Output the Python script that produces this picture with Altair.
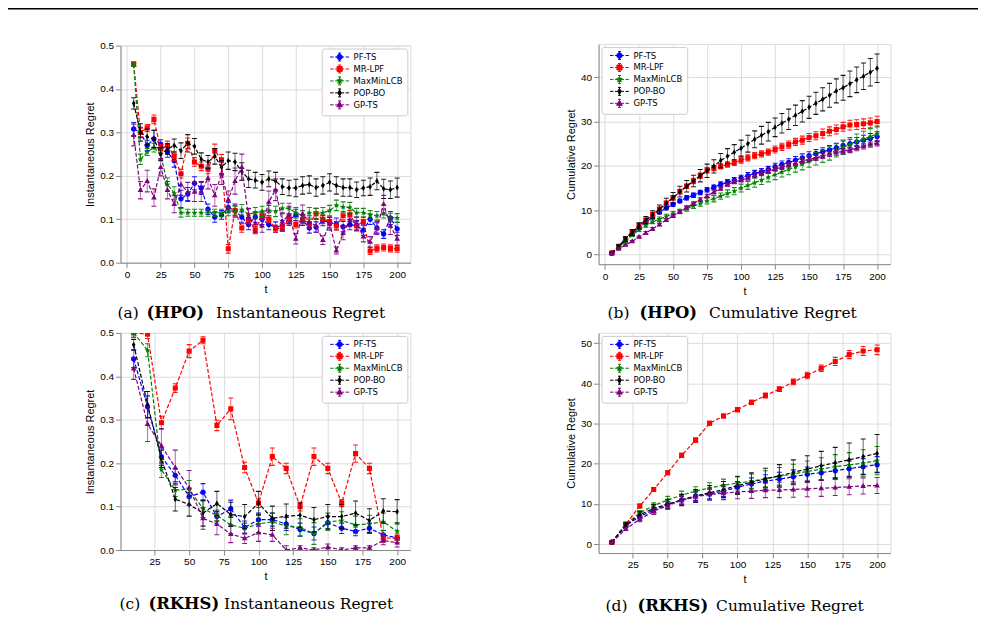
import math
import altair as alt
import pandas as pd

SERIES = ["PF-TS", "MR-LPF", "MaxMinLCB", "POP-BO", "GP-TS"]
COLORS = ["blue", "red", "green", "black", "purple"]
MARKERS = ["circle", "square", "star", "diamond", "triangle"]

T_HPO = [5, 10, 15, 20, 25, 30, 35, 40, 45, 50, 55, 60, 65, 70, 75, 80, 85, 90, 95, 100,
         105, 110, 115, 120, 125, 130, 135, 140, 145, 150, 155, 160, 165, 170, 175, 180, 185, 190, 195, 200]
T_RKHS = [10, 20, 30, 40, 50, 60, 70, 80, 90, 100, 110, 120, 130, 140, 150, 160, 170, 180, 190, 200]

# (a) HPO instantaneous regret
HPO_INST = {
    "PF-TS": [0.308, 0.300, 0.270, 0.285, 0.273, 0.255, 0.235, 0.147, 0.158, 0.183, 0.172, 0.123, 0.105, 0.110, 0.127, 0.120, 0.105, 0.088, 0.105, 0.100,
              0.088, 0.082, 0.085, 0.098, 0.110, 0.098, 0.080, 0.082, 0.097, 0.092, 0.090, 0.083, 0.088, 0.085, 0.075, 0.100, 0.080, 0.066, 0.103, 0.078],
    "MR-LPF": [0.457, 0.300, 0.310, 0.330, 0.262, 0.270, 0.245, 0.205, 0.275, 0.232, 0.222, 0.215, 0.258, 0.237, 0.032, 0.120, 0.080, 0.100, 0.075, 0.108,
               0.100, 0.078, 0.080, 0.100, 0.088, 0.100, 0.090, 0.113, 0.100, 0.095, 0.085, 0.108, 0.110, 0.085, 0.095, 0.027, 0.033, 0.035, 0.033, 0.032],
    "MaxMinLCB": [0.457, 0.238, 0.255, 0.265, 0.250, 0.180, 0.160, 0.115, 0.115, 0.115, 0.115, 0.115, 0.115, 0.115, 0.118, 0.120, 0.122, 0.112, 0.115, 0.118,
                  0.120, 0.118, 0.125, 0.125, 0.115, 0.108, 0.115, 0.113, 0.115, 0.120, 0.132, 0.128, 0.127, 0.115, 0.115, 0.110, 0.108, 0.113, 0.104, 0.103],
    "POP-BO": [0.367, 0.300, 0.290, 0.285, 0.250, 0.262, 0.270, 0.258, 0.275, 0.268, 0.238, 0.232, 0.245, 0.220, 0.235, 0.232, 0.210, 0.193, 0.190, 0.185,
               0.193, 0.188, 0.175, 0.172, 0.172, 0.178, 0.180, 0.173, 0.178, 0.185, 0.178, 0.173, 0.173, 0.168, 0.172, 0.175, 0.188, 0.170, 0.168, 0.173],
    "GP-TS": [0.294, 0.167, 0.188, 0.150, 0.220, 0.167, 0.135, 0.180, 0.163, 0.163, 0.163, 0.195, 0.155, 0.205, 0.145, 0.188, 0.220, 0.105, 0.090, 0.085,
              0.140, 0.168, 0.095, 0.110, 0.055, 0.113, 0.093, 0.085, 0.052, 0.090, 0.028, 0.068, 0.098, 0.090, 0.060, 0.048, 0.080, 0.135, 0.085, 0.055],
}
HPO_INST_ERR = {
    "PF-TS": [0.015, 0.012, 0.012, 0.020, 0.010, 0.012, 0.015, 0.020, 0.015, 0.015, 0.015, 0.012, 0.012, 0.010, 0.012, 0.015, 0.012, 0.012, 0.012, 0.012,
              0.012, 0.012, 0.012, 0.012, 0.013, 0.012, 0.012, 0.012, 0.012, 0.012, 0.013, 0.012, 0.012, 0.012, 0.012, 0.012, 0.012, 0.010, 0.015, 0.015],
    "MR-LPF": [0.005, 0.010, 0.008, 0.010, 0.010, 0.010, 0.010, 0.010, 0.012, 0.010, 0.010, 0.010, 0.015, 0.012, 0.010, 0.012, 0.010, 0.010, 0.008, 0.008,
               0.008, 0.008, 0.008, 0.010, 0.008, 0.010, 0.010, 0.012, 0.010, 0.010, 0.010, 0.010, 0.010, 0.010, 0.010, 0.008, 0.008, 0.008, 0.008, 0.008],
    "MaxMinLCB": [0.005, 0.012, 0.008, 0.010, 0.012, 0.015, 0.015, 0.010, 0.008, 0.008, 0.008, 0.008, 0.008, 0.008, 0.010, 0.010, 0.012, 0.012, 0.012, 0.012,
                  0.012, 0.012, 0.012, 0.012, 0.012, 0.012, 0.012, 0.012, 0.012, 0.012, 0.012, 0.012, 0.012, 0.010, 0.010, 0.010, 0.010, 0.010, 0.010, 0.010],
    "POP-BO": [0.013, 0.020, 0.018, 0.020, 0.015, 0.012, 0.015, 0.018, 0.020, 0.018, 0.015, 0.015, 0.018, 0.015, 0.020, 0.020, 0.020, 0.020, 0.018, 0.018,
               0.018, 0.020, 0.018, 0.018, 0.020, 0.020, 0.020, 0.020, 0.020, 0.020, 0.020, 0.020, 0.020, 0.018, 0.018, 0.020, 0.020, 0.022, 0.020, 0.022],
    "GP-TS": [0.025, 0.020, 0.025, 0.020, 0.020, 0.020, 0.020, 0.025, 0.022, 0.022, 0.022, 0.025, 0.025, 0.025, 0.020, 0.030, 0.030, 0.020, 0.020, 0.015,
              0.025, 0.025, 0.020, 0.020, 0.012, 0.020, 0.015, 0.015, 0.010, 0.015, 0.008, 0.015, 0.015, 0.015, 0.012, 0.012, 0.015, 0.020, 0.020, 0.015],
}

# (b) HPO cumulative regret
HPO_CUM = {
    "PF-TS": [0.3, 1.8, 3.2, 4.6, 6.0, 7.3, 8.5, 9.6, 10.5, 11.3, 12.1, 12.8, 13.4, 14.0, 14.6, 15.2, 15.8, 16.3, 16.8, 17.3,
              17.8, 18.3, 18.7, 19.2, 19.8, 20.3, 20.8, 21.3, 21.8, 22.3, 22.8, 23.2, 23.6, 24.1, 24.6, 25.0, 25.4, 25.8, 26.2, 26.6],
    "MR-LPF": [0.4, 1.9, 3.6, 5.2, 6.6, 7.8, 9.1, 10.2, 11.6, 12.8, 14.2, 15.4, 16.6, 17.8, 19.0, 19.5, 19.9, 20.3, 20.7, 21.3,
               21.8, 22.3, 22.7, 23.1, 23.7, 24.3, 24.8, 25.4, 25.8, 26.4, 26.8, 27.3, 27.8, 28.2, 28.8, 29.2, 29.3, 29.5, 29.7, 30.0],
    "MaxMinLCB": [0.4, 1.7, 3.0, 4.4, 5.6, 6.6, 7.4, 8.0, 8.6, 9.2, 9.7, 10.4, 11.0, 11.5, 12.1, 12.6, 13.2, 13.8, 14.3, 15.0,
                  15.6, 16.2, 16.8, 17.4, 18.0, 18.6, 19.2, 19.8, 20.4, 21.0, 21.6, 22.2, 22.8, 23.5, 24.2, 24.8, 25.5, 26.1, 26.6, 27.2],
    "POP-BO": [0.4, 1.8, 3.5, 5.0, 6.5, 7.8, 9.0, 10.2, 11.6, 12.8, 14.2, 15.4, 16.6, 17.8, 18.9, 19.9, 21.2, 22.2, 23.1, 24.0,
               25.0, 26.0, 26.9, 27.7, 28.7, 29.6, 30.5, 31.4, 32.3, 33.2, 34.1, 35.0, 35.9, 36.9, 37.6, 38.5, 39.4, 40.2, 41.1, 42.0],
    "GP-TS": [0.3, 1.3, 2.2, 3.0, 4.0, 4.9, 5.8, 6.8, 7.8, 8.7, 9.7, 10.6, 11.5, 12.4, 13.2, 14.1, 14.9, 15.8, 16.4, 16.8,
              17.3, 17.9, 18.4, 18.8, 19.3, 19.7, 20.2, 20.6, 21.1, 21.5, 21.8, 22.3, 22.7, 23.0, 23.3, 23.6, 24.0, 24.4, 24.8, 25.1],
}
HPO_CUM_ERR = {
    "PF-TS": [0.1, 0.2, 0.2, 0.3, 0.3, 0.3, 0.4, 0.4, 0.4, 0.4, 0.4, 0.5, 0.5, 0.5, 0.5, 0.5, 0.6, 0.6, 0.6, 0.6,
              0.7, 0.7, 0.7, 0.7, 0.8, 0.8, 0.8, 0.8, 0.9, 0.9, 0.9, 0.9, 1.0, 1.0, 1.0, 1.0, 1.0, 1.1, 1.1, 1.1],
    "MR-LPF": [0.1, 0.2, 0.3, 0.4, 0.4, 0.4, 0.4, 0.5, 0.5, 0.5, 0.5, 0.5, 0.6, 0.6, 0.6, 0.6, 0.6, 0.6, 0.6, 0.7,
               0.7, 0.7, 0.7, 0.7, 0.8, 0.8, 0.8, 0.8, 0.9, 0.9, 0.9, 1.0, 1.0, 1.0, 1.0, 1.1, 1.1, 1.1, 1.1, 1.2],
    "MaxMinLCB": [0.1, 0.2, 0.3, 0.3, 0.4, 0.4, 0.4, 0.5, 0.5, 0.5, 0.5, 0.6, 0.6, 0.6, 0.7, 0.7, 0.7, 0.8, 0.8, 0.9,
                  0.9, 1.0, 1.0, 1.0, 1.1, 1.1, 1.2, 1.2, 1.3, 1.3, 1.4, 1.4, 1.5, 1.5, 1.6, 1.6, 1.7, 1.7, 1.8, 1.8],
    "POP-BO": [0.2, 0.4, 0.5, 0.6, 0.7, 0.8, 0.9, 1.0, 1.1, 1.2, 1.2, 1.3, 1.3, 1.4, 1.5, 1.5, 1.6, 1.7, 1.7, 1.8,
               1.9, 1.9, 2.0, 2.1, 2.1, 2.2, 2.3, 2.3, 2.4, 2.5, 2.5, 2.6, 2.7, 2.7, 2.8, 2.9, 2.9, 3.0, 3.1, 3.2],
    "GP-TS": [0.1, 0.2, 0.2, 0.2, 0.2, 0.3, 0.3, 0.3, 0.3, 0.3, 0.3, 0.3, 0.4, 0.4, 0.4, 0.4, 0.4, 0.4, 0.4, 0.4,
              0.5, 0.5, 0.5, 0.5, 0.5, 0.5, 0.5, 0.5, 0.5, 0.5, 0.6, 0.6, 0.6, 0.6, 0.6, 0.6, 0.6, 0.6, 0.6, 0.6],
}

# (c) RKHS instantaneous regret
RKHS_INST = {
    "PF-TS": [0.440, 0.330, 0.215, 0.172, 0.123, 0.133, 0.077, 0.095, 0.052, 0.070, 0.070, 0.060, 0.047, 0.038, 0.063, 0.050, 0.043, 0.050, 0.035, 0.028],
    "MR-LPF": [0.500, 0.497, 0.293, 0.373, 0.458, 0.483, 0.287, 0.325, 0.190, 0.108, 0.215, 0.188, 0.100, 0.215, 0.188, 0.108, 0.222, 0.188, 0.028, 0.027],
    "MaxMinLCB": [0.500, 0.460, 0.185, 0.138, 0.140, 0.095, 0.080, 0.058, 0.050, 0.060, 0.065, 0.055, 0.052, 0.038, 0.065, 0.068, 0.058, 0.060, 0.065, 0.043],
    "POP-BO": [0.473, 0.335, 0.210, 0.117, 0.105, 0.085, 0.107, 0.082, 0.077, 0.108, 0.073, 0.078, 0.080, 0.070, 0.077, 0.077, 0.085, 0.068, 0.090, 0.088],
    "GP-TS": [0.418, 0.290, 0.240, 0.190, 0.143, 0.073, 0.060, 0.037, 0.027, 0.040, 0.035, 0.000, 0.005, 0.000, 0.007, 0.000, 0.005, 0.005, 0.022, 0.017],
}
RKHS_INST_ERR = {
    "PF-TS": [0.020, 0.025, 0.020, 0.015, 0.020, 0.020, 0.012, 0.020, 0.015, 0.015, 0.015, 0.015, 0.015, 0.015, 0.015, 0.012, 0.010, 0.012, 0.010, 0.005],
    "MR-LPF": [0.010, 0.010, 0.015, 0.010, 0.015, 0.008, 0.012, 0.025, 0.012, 0.010, 0.020, 0.012, 0.010, 0.020, 0.012, 0.008, 0.020, 0.012, 0.010, 0.010],
    "MaxMinLCB": [0.010, 0.015, 0.018, 0.015, 0.020, 0.020, 0.012, 0.020, 0.012, 0.020, 0.020, 0.020, 0.020, 0.025, 0.020, 0.020, 0.020, 0.020, 0.020, 0.020],
    "POP-BO": [0.012, 0.030, 0.020, 0.027, 0.027, 0.030, 0.028, 0.028, 0.028, 0.027, 0.028, 0.028, 0.028, 0.028, 0.028, 0.028, 0.028, 0.027, 0.028, 0.028],
    "GP-TS": [0.025, 0.040, 0.040, 0.040, 0.040, 0.025, 0.025, 0.020, 0.012, 0.020, 0.015, 0.010, 0.005, 0.005, 0.007, 0.005, 0.005, 0.005, 0.010, 0.010],
}

# (d) RKHS cumulative regret
RKHS_CUM = {
    "PF-TS": [0.5, 4.6, 6.9, 8.5, 9.8, 11.0, 12.0, 12.5, 13.2, 14.2, 15.0, 15.7, 16.2, 16.8, 17.4, 17.8, 18.3, 18.8, 19.3, 19.8],
    "MR-LPF": [0.5, 5.0, 9.5, 13.6, 17.8, 22.1, 25.9, 30.1, 31.9, 33.5, 35.3, 37.0, 38.6, 40.4, 42.0, 43.8, 45.5, 47.2, 48.1, 48.4],
    "MaxMinLCB": [0.5, 5.0, 7.8, 9.6, 11.0, 12.2, 13.2, 14.0, 14.7, 15.2, 15.7, 16.3, 16.9, 17.5, 18.1, 18.7, 19.3, 19.7, 20.2, 20.8],
    "POP-BO": [0.5, 4.7, 7.3, 8.9, 10.0, 11.0, 12.0, 12.8, 13.6, 14.6, 15.4, 16.3, 17.0, 17.9, 18.7, 19.5, 20.3, 21.0, 21.8, 22.6],
    "GP-TS": [0.4, 3.8, 6.2, 8.2, 9.6, 10.9, 11.8, 12.4, 12.7, 13.0, 13.2, 13.4, 13.5, 13.6, 13.8, 13.9, 14.1, 14.3, 14.5, 14.6],
}
RKHS_CUM_ERR = {
    "PF-TS": [0.2, 0.4, 0.6, 0.7, 0.8, 1.0, 1.1, 1.2, 1.3, 1.4, 1.5, 1.6, 1.7, 1.7, 1.8, 1.8, 1.9, 1.9, 2.0, 2.0],
    "MR-LPF": [0.2, 0.4, 0.5, 0.5, 0.5, 0.5, 0.5, 0.5, 0.5, 0.5, 0.5, 0.6, 0.6, 0.7, 0.8, 0.8, 1.0, 1.0, 1.1, 1.2],
    "MaxMinLCB": [0.2, 0.4, 0.6, 0.7, 0.9, 1.0, 1.1, 1.3, 1.5, 1.7, 1.8, 2.0, 2.2, 2.4, 2.6, 2.8, 3.0, 3.1, 3.3, 3.5],
    "POP-BO": [0.2, 0.6, 0.8, 1.0, 1.2, 1.4, 1.6, 1.8, 2.0, 2.2, 2.4, 2.6, 2.8, 3.1, 3.3, 3.6, 3.8, 4.2, 4.4, 4.7],
    "GP-TS": [0.2, 0.4, 0.6, 0.8, 0.9, 1.0, 1.2, 1.4, 1.6, 1.7, 1.8, 1.8, 1.9, 1.9, 2.0, 2.0, 2.0, 2.0, 2.0, 2.0],
}


# ---------- marker geometry (unit box, scaled by Vega with sqrt(size)/2) ----------
def _star_pts():
    pts = []
    for k in range(10):
        r = 1.0 if k % 2 == 0 else 0.45
        a = -math.pi / 2 + k * math.pi / 5
        pts.append((r * math.cos(a), r * math.sin(a)))
    return pts


SHAPE_PTS = {
    "square": [(-0.85, -0.85), (0.85, -0.85), (0.85, 0.85), (-0.85, 0.85)],
    "diamond": [(0, -1.0), (0.6, 0), (0, 1.0), (-0.6, 0)],
    "triangle": [(0, -1.0), (0.95, 0.65), (-0.95, 0.65)],
    "star": _star_pts(),
}


def marker_path(kind, s=1.0, dx=0.0):
    if kind == "circle":
        r = 0.9 * s
        return (f"M{dx + r:.3f},0A{r:.3f},{r:.3f} 0 1,1 {dx - r:.3f},0"
                f"A{r:.3f},{r:.3f} 0 1,1 {dx + r:.3f},0Z")
    pts = SHAPE_PTS[kind]
    return "M" + "L".join(f"{x * s + dx:.3f},{y * s:.3f}" for x, y in pts) + "Z"


def legend_path(kind):
    dx = 2.375
    segs = [(-2.375, -1.5), (-1.125, -0.45), (0.45, 1.125), (1.5, 2.375)]
    dashes = "".join(f"M{a + dx:.3f},0H{b + dx:.3f}" for a, b in segs)
    err = (f"M{dx:.3f},-1V1M{dx - 0.375:.3f},-1H{dx + 0.375:.3f}"
           f"M{dx - 0.375:.3f},1H{dx + 0.375:.3f}")
    return dashes + err + marker_path(kind, 0.75, dx)


LEG_PATHS = [legend_path(m) for m in MARKERS]

FONT = "DejaVu Sans"
CAP_FONT = "DejaVu Serif"


def panel(t, means, errs, xdom, xvals, ydom, yvals, yfmt, ytitle, w, h,
          legend_orient, caption, cap_y, top_rule=False):
    def X():
        return alt.X("t:Q", scale=alt.Scale(domain=xdom, nice=False, zero=False),
                     axis=alt.Axis(values=xvals, format="d", title="t",
                                   titleFontWeight="normal"))

    def Y(field):
        return alt.Y(f"{field}:Q", scale=alt.Scale(domain=ydom, nice=False, zero=False),
                     axis=alt.Axis(values=yvals, format=yfmt, title=ytitle,
                                   titleFontWeight="normal"))

    layers = []
    for s, c, m in zip(SERIES, COLORS, MARKERS):
        df = pd.DataFrame({"t": t, "v": means[s], "e": errs[s]})
        df["lo"] = df["v"] - df["e"]
        df["hi"] = df["v"] + df["e"]
        base = alt.Chart(df)
        layers += [
            base.mark_rule(color=c, strokeWidth=1.1, opacity=0.55, clip=True).encode(
                x=X(), y=Y("lo"), y2=alt.Y2("hi")),
            base.mark_tick(color=c, orient="horizontal", size=5, thickness=1.1,
                           opacity=0.9, clip=True).encode(x=X(), y=Y("lo")),
            base.mark_tick(color=c, orient="horizontal", size=5, thickness=1.1,
                           opacity=0.9, clip=True).encode(x=X(), y=Y("hi")),
            base.mark_line(color=c, strokeDash=[4, 2], strokeWidth=1.2, clip=True).encode(
                x=X(), y=Y("v")),
            base.mark_point(shape=marker_path(m), filled=True, size=36, color=c,
                            opacity=1, clip=True).encode(x=X(), y=Y("v")),
        ]

    leg = alt.Legend(title=None, orient=legend_orient, offset=3, fillColor="white",
                     strokeColor="#cccccc", cornerRadius=2, padding=4,
                     labelFont=FONT, labelFontSize=8.5, labelColor="black",
                     symbolSize=64, symbolStrokeWidth=1, labelOffset=19, rowPadding=-1)
    leg_df = pd.DataFrame({"series": SERIES})
    layers.append(
        alt.Chart(leg_df).transform_filter("false").mark_point(
            filled=True, opacity=1, size=64, strokeWidth=1).encode(
            shape=alt.Shape("series:N", scale=alt.Scale(domain=SERIES, range=LEG_PATHS), legend=leg),
            fill=alt.Fill("series:N", scale=alt.Scale(domain=SERIES, range=COLORS), legend=leg),
            stroke=alt.Stroke("series:N", scale=alt.Scale(domain=SERIES, range=COLORS), legend=leg),
        )
    )

    one = pd.DataFrame({"k": [0]})
    for txt, dx, bold in caption:
        layers.append(
            alt.Chart(one).mark_text(text=txt, font=CAP_FONT, fontSize=16.5 if bold else 15.5,
                                     fontWeight="bold" if bold else "normal",
                                     align="left", baseline="alphabetic", color="black").encode(
                x=alt.value(dx), y=alt.value(cap_y))
        )
    if top_rule:
        layers.append(
            alt.Chart(one).mark_rule(color="black", strokeWidth=1.5).encode(
                x=alt.value(-113), x2=alt.value(861), y=alt.value(-37))
        )
    return alt.layer(*layers).properties(width=w, height=h)


A = panel(T_HPO, HPO_INST, HPO_INST_ERR, [-4.75, 209.75], [0, 25, 50, 75, 100, 125, 150, 175, 200],
          [0, 0.5], [0, 0.1, 0.2, 0.3, 0.4, 0.5], ".1f", "Instantaneous Regret", 291, 218,
          "top-right", [("(a)", -3, False), ("(HPO)", 26, True), ("Instantaneous Regret", 96, False)],
          274, top_rule=True)
B = panel(T_HPO, HPO_CUM, HPO_CUM_ERR, [-4.75, 209.75], [0, 25, 50, 75, 100, 125, 150, 175, 200],
          [-2.15, 47.45], [0, 10, 20, 30, 40], "d", "Cumulative Regret", 293, 221,
          "top-left", [("(b)", 9, False), ("(HPO)", 41, True), ("Cumulative Regret", 111, False)],
          275)
C = panel(T_RKHS, RKHS_INST, RKHS_INST_ERR, [0.5, 209.5], [25, 50, 75, 100, 125, 150, 175, 200],
          [0, 0.5], [0, 0.1, 0.2, 0.3, 0.4, 0.5], ".1f", "Instantaneous Regret", 291, 218,
          "top-right", [("(c)", -1, False), ("(RKHS)", 28, True), ("Instantaneous Regret", 104, False)],
          277)
D = panel(T_RKHS, RKHS_CUM, RKHS_CUM_ERR, [0.5, 209.5], [25, 50, 75, 100, 125, 150, 175, 200],
          [-2.2, 52.6], [0, 10, 20, 30, 40, 50], "d", "Cumulative Regret", 293, 221,
          "top-left", [("(d)", 7, False), ("(RKHS)", 39, True), ("Cumulative Regret", 118, False)],
          279)

chart = alt.concat(A, B, C, D, columns=2, spacing={"row": 69, "column": 189},
                   center=True, bounds="flush").properties(
    padding={"left": 6, "top": 6, "right": 4, "bottom": 4}
).configure_view(stroke="black", strokeWidth=0.8).configure_axis(
    labelFont=FONT, labelFontSize=8.5, labelColor="black", labelFlush=False,
    titleFont=FONT, titleFontSize=8.5, titleFontWeight="normal", titleColor="black",
    tickColor="black", tickSize=3, tickWidth=0.8, domain=False, grid=False,
    labelPadding=1.5, titlePadding=1,
).configure(background="white")

chart.save("out.html", embed_options={"renderer": "svg", "actions": False})
